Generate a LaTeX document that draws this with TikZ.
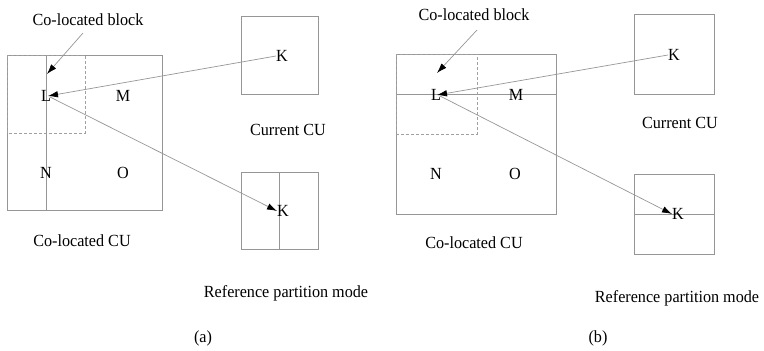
\documentclass[tikz,border=0pt]{standalone}
\usepackage{fontspec}
\setmainfont{Liberation Serif}[FakeStretch=0.95]
\usetikzlibrary{arrows.meta}
\definecolor{linegray}{RGB}{150,150,150}
\definecolor{dashgray}{RGB}{160,160,160}
\begin{document}
\begin{tikzpicture}[x=1pt,y=-1pt,
  every node/.style={font=\fontsize{17}{20}\selectfont, inner sep=0pt},
  box/.style={draw=linegray, line width=0.8pt},
  dashbox/.style={draw=dashgray, line width=0.8pt, dash pattern=on 3pt off 2pt},
  conn/.style={draw=linegray, line width=0.7pt, -{Latex[length=10pt,width=6.5pt,color=black]}},
  lbl/.style={anchor=center}]
\useasboundingbox (0,0) rectangle (764,351);

% ---------- panel (a) ----------
\draw[box] (7,55) rectangle (162,210);
\draw[box] (46,55) -- (46,210);
\draw[dashbox] (7,55) rectangle (85,133);
\node[lbl] (La) at (46,96) {L};
\node[lbl] (Ma) at (123,96) {M};
\node[lbl] (Na) at (46,173) {N};
\node[lbl] (Oa) at (123,173) {O};
\node[lbl] (cba) at (88,20) {Co-located block};
\coordinate (cbsa) at (83,33);
\coordinate (cbea) at (47,74);
\draw[conn] (cbsa) -- (cbea);

\draw[box] (241,16) rectangle (318,94);
\node[lbl] (Kca) at (282,56) {K};
\node[lbl] (cca) at (288,130) {Current CU};

\draw[box] (241,172) rectangle (318,249);
\draw[box] (279,172) -- (279,249);
\node[lbl] (Kra) at (283,211) {K};

\coordinate (Lea) at (48,96);
\coordinate (Lsa) at (50,97);
\draw[conn] (Kca.west) -- (Lea);
\draw[conn] (Lsa) -- (Kra.west);

\node[lbl] (cola) at (82,241) {Co-located CU};
\node[lbl] (rpa) at (286,293) {Reference partition mode};
\node[lbl] (capa) at (203,338) {(a)};

% ---------- panel (b) ----------
\draw[box] (396,54) rectangle (556,214);
\draw[box] (396,94) -- (556,94);
\draw[dashbox] (396,54) rectangle (477,134);
\node[lbl] (Lb) at (436,95) {L};
\node[lbl] (Mb) at (516,95) {M};
\node[lbl] (Nb) at (436,174) {N};
\node[lbl] (Ob) at (515,174) {O};
\node[lbl] (cbb) at (474,15) {Co-located block};
\coordinate (cbsb) at (477,30);
\coordinate (cbeb) at (437,73);
\draw[conn] (cbsb) -- (cbeb);

\draw[box] (634,14) rectangle (714,94);
\node[lbl] (Kcb) at (674,55) {K};
\node[lbl] (ccb) at (680,123) {Current CU};

\draw[box] (634,174) rectangle (714,254);
\draw[box] (634,214) -- (714,214);
\node[lbl] (Krb) at (678,214) {K};

\coordinate (Leb) at (437,95);
\coordinate (Lsb) at (440,96);
\draw[conn] (Kcb.west) -- (Leb);
\draw[conn] (Lsb) -- (Krb.west);

\node[lbl] (colb) at (474,243) {Co-located CU};
\node[lbl] (rpb) at (677,298) {Reference partition mode};
\node[lbl] (capb) at (598,338) {(b)};
\end{tikzpicture}
\end{document}
